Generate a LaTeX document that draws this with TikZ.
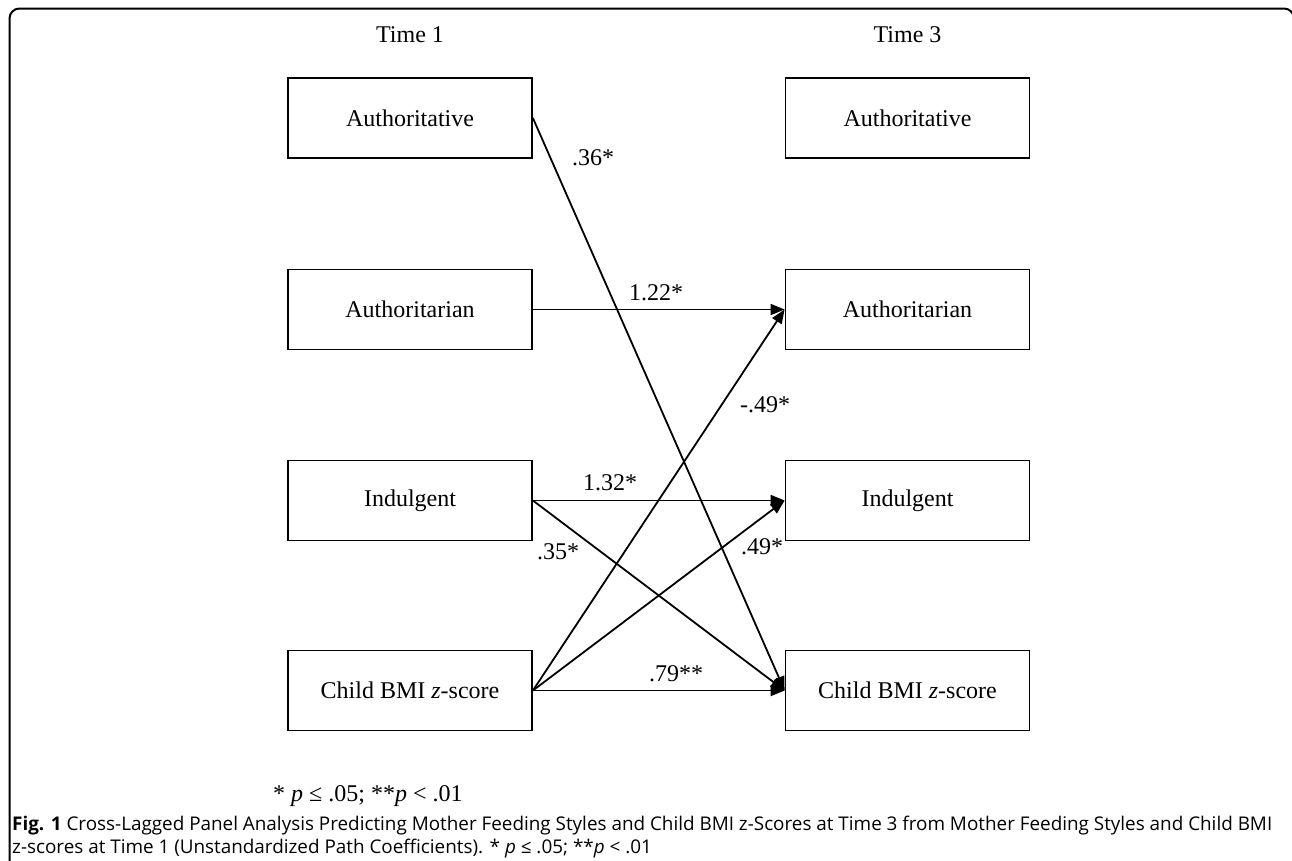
\documentclass[tikz,border=0pt]{standalone}
\usepackage{fontspec}
\setmainfont{Liberation Serif}
\newfontfamily\capfont{Open Sans}
\usetikzlibrary{arrows.meta}
\newsavebox\mycapA
\newsavebox\mycapB
\begin{document}
\sbox\mycapA{\capfont\fontsize{18}{22}\selectfont\textbf{Fig. 1} Cross-Lagged Panel Analysis Predicting Mother Feeding Styles and Child BMI z-Scores at Time 3 from Mother Feeding Styles and Child BMI}%
\sbox\mycapB{\capfont\fontsize{18}{22}\selectfont z-scores at Time 1 (Unstandardized Path Coefficients). * \textit{p} ≤ .05; **\textit{p} < .01}%
\pgfmathsetmacro\mycapscale{1260pt/\wd\mycapA}%
\begin{tikzpicture}[x=1pt,y=-1pt,
  box/.style={draw,line width=1.8pt,minimum width=244pt,minimum height=80pt,inner sep=0pt,font=\fontsize{24}{28}\selectfont},
  lab/.style={font=\fontsize{24}{28}\selectfont,inner sep=0pt},
  conn/.style={line width=1.8pt,-{Triangle[length=14pt,width=11pt]}},
  captxt/.style={text=black!85,inner sep=0pt,anchor=west}]
\useasboundingbox (0,0) rectangle (1292,860);
\begin{scope}
\clip (0,0) rectangle (1292,860);
\draw[line width=2pt,rounded corners=10pt] (9.5,8.5) rectangle (1294,900);
\end{scope}
% column headings
\node[lab] (t1) at (410,35) {Time 1};
\node[lab] (t3) at (907.5,35) {Time 3};
% Time 1 boxes
\node[box] (a1) at (410,118) {Authoritative};
\node[box] (b1) at (410,309.5) {Authoritarian};
\node[box] (c1) at (410,500.5) {Indulgent};
\node[box] (d1) at (410,690.5) {Child BMI \textit{z}-score};
% Time 3 boxes
\node[box] (a3) at (907.5,118) {Authoritative};
\node[box] (b3) at (907.5,309.5) {Authoritarian};
\node[box] (c3) at (907.5,500.5) {Indulgent};
\node[box] (d3) at (907.5,690.5) {Child BMI \textit{z}-score};
% paths
\draw[conn] (a1.east) -- (d3.west);
\draw[conn] (b1.east) -- (b3.west);
\draw[conn] (c1.east) -- (c3.west);
\draw[conn] (c1.east) -- (d3.west);
\draw[conn] (d1.east) -- (b3.west);
\draw[conn] (d1.east) -- (c3.west);
\draw[conn] (d1.east) -- (d3.west);
% coefficients
\node[lab] (l1) at (593,158) {.36*};
\node[lab] (l2) at (656,293) {1.22*};
\node[lab] (l3) at (765,405) {-.49*};
\node[lab] (l4) at (610,483) {1.32*};
\node[lab] (l5) at (558,552) {.35*};
\node[lab] (l6) at (762,547) {.49*};
\node[lab] (l7) at (676,674) {.79**};
% footnote
\node[lab,anchor=west] (fn) at (273,796) {* \textit{p} ≤ .05; **\textit{p} < .01};
% caption
\node[captxt] (cap1) at (12,826) {\scalebox{\mycapscale}{\usebox\mycapA}};
\node[captxt] (cap2) at (12,849) {\scalebox{\mycapscale}{\usebox\mycapB}};
\end{tikzpicture}
\end{document}
